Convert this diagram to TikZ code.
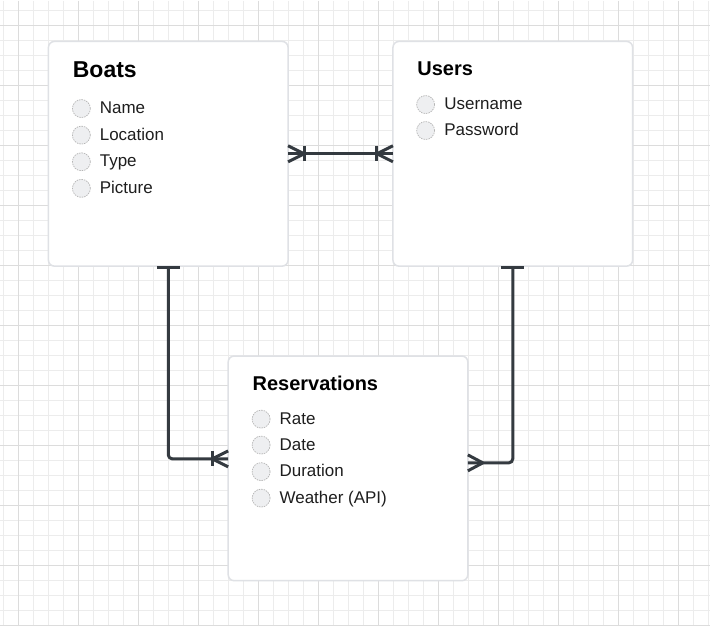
\documentclass[tikz,border=0pt]{standalone}
\usepackage{fontspec}
\setmainfont{Liberation Sans}
\usetikzlibrary{calc}
\definecolor{gridminor}{HTML}{ECECEC}
\definecolor{gridmajor}{HTML}{DCDCDC}
\definecolor{boxborder}{HTML}{DFE1E5}
\definecolor{conn}{HTML}{343A40}
\definecolor{dotfill}{HTML}{EEEFF1}
\definecolor{dotline}{HTML}{B5B5B5}
\definecolor{itemcol}{HTML}{1E1E1E}
\begin{document}
\begin{tikzpicture}[x=1pt,y=-1pt,
 entity/.style={draw=boxborder, line width=1.5pt, fill=white, rounded corners=6pt, minimum width=240pt, minimum height=225pt, inner sep=0pt, outer sep=0pt},
 titletext/.style={anchor=base west, inner sep=0pt, font=\fontsize{20}{24}\selectfont\bfseries},
 itemtext/.style={anchor=base west, inner sep=0pt, text=itemcol, font=\fontsize{17}{20}\selectfont},
 dot/.style={circle, draw=dotline, fill=dotfill, line width=0.7pt, dash pattern=on 1.5pt off 1pt, minimum size=18pt, inner sep=0pt},
 relline/.style={draw=conn, line width=3pt, line join=round}
]
\fill[white] (0,0) rectangle (710,626);
\foreach \x in {3.5,18.5,...,708.5} \draw[gridminor, line width=1pt] (\x,0) -- (\x,626);
\foreach \y in {10.5,25.5,...,625.5} \draw[gridminor, line width=1pt] (0,\y) -- (710,\y);
\foreach \x in {18.5,78.5,...,678.5} \draw[gridmajor, line width=1pt] (\x,0) -- (\x,626);
\foreach \y in {25.5,85.5,...,625.5} \draw[gridmajor, line width=1pt] (0,\y) -- (710,\y);
\useasboundingbox (0,0) rectangle (710,626);

% entities
\node[entity] (boats) at (168,153.5) {};
\node[entity] (users) at (513,153.5) {};
\node[entity] (res) at (348,468.5) {};

% titles
\node[titletext, font=\fontsize{23}{27}\selectfont\bfseries] (tboats) at (72.3,77.4) {Boats};
\node[titletext] (tusers) at (417.3,75) {Users};
\node[titletext] (tres) at (252.3,390.7) {Reservations};

% Boats items
\foreach \t/\yy [count=\i] in {Name/108.2, Location/134.8, Type/161.5, Picture/188.1}{
  \node[dot] (bd\i) at (81,\yy) {};
  \node[itemtext] (bt\i) at (99.3,\yy+5.2) {\t};
}
% Users items
\foreach \t/\yy [count=\i] in {Username/104.2, Password/130.2}{
  \node[dot] (ud\i) at (425.7,\yy) {};
  \node[itemtext] (ut\i) at (444.3,\yy+5.2) {\t};
}
% Reservations items
\foreach \t/\yy [count=\i] in {Rate/419.2, Date/445.2, Duration/471.8, Weather (API)/498.3}{
  \node[dot] (rd\i) at (261,\yy) {};
  \node[itemtext] (rt\i) at (279.3,\yy+5.2) {\t};
}

% Boats -- Users (one or many on both ends)
\draw[relline] (boats.east) -- (users.west);
\draw[relline] ($(boats.east)+(0,-8)$) -- ++(16,8) -- ++(-16,8);
\draw[relline] ($(boats.east)+(16,-7.5)$) -- ++(0,15);
\draw[relline] ($(users.west)+(0,-8)$) -- ++(-16,8) -- ++(16,8);
\draw[relline] ($(users.west)+(-16,-7.5)$) -- ++(0,15);

% Boats -- Reservations
\coordinate (rl) at (res.west |- 0,459);
\draw[relline, rounded corners=4pt] (boats.south) |- (rl);
\draw[relline] ($(boats.south)+(-11.5,1.5)$) -- ++(23,0);
\draw[relline] ($(rl)+(0,-8)$) -- ++(-16,8) -- ++(16,8);
\draw[relline] ($(rl)+(-16,-7.5)$) -- ++(0,15);

% Users -- Reservations
\coordinate (rr) at (res.east |- 0,463);
\draw[relline, rounded corners=4pt] (users.south) |- (rr);
\draw[relline] ($(users.south)+(-11.5,1.5)$) -- ++(23,0);
\draw[relline] ($(rr)+(0,-8)$) -- ++(15,8) -- ++(-15,8);
\end{tikzpicture}
\end{document}
